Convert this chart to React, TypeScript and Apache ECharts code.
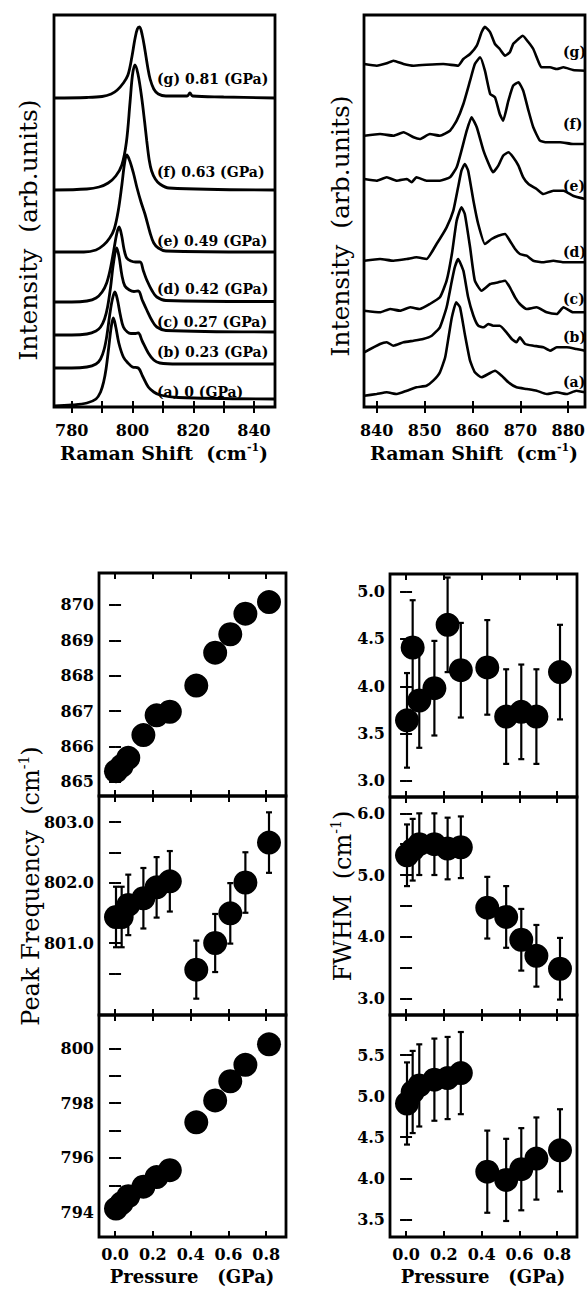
import React, { useEffect, useRef } from "react";
import * as echarts from "echarts";

const FONT = "DejaVu Serif";

// ---------- Top-left spectra (Raman shift cm-1, offset intensity) ----------
const lowA = [[774.2,1],[780,2],[785,4],[788,8],[789.5,15],[790.5,25],[791.3,38],[792.2,60],[793,80],[793.7,89],[794.5,80],[795.5,64],[797,50],[798.5,44],[800,40],[801.9,39],[803.3,31],[805.2,20],[807,15],[809,12],[815,9.5],[846.9,8]];
const lowB = [[774.2,39],[780,39],[785,40],[788,43],[789.5,48],[790.7,58],[791.6,72],[792.5,92],[793.4,108],[794.2,115],[795,108],[796,92],[797,80],[798.3,75],[799.5,73.5],[801,73.5],[801.9,74],[803.2,66],[805.2,54],[807,47],[809,44],[815,43],[846.9,43]];
const lowC = [[774.2,72],[780,72],[785,73],[788,76],[789.5,80],[790.8,88],[791.8,100],[792.8,120],[793.7,143],[794.8,159],[795.6,150],[796.5,132],[797.5,121],[799,117],[800.5,115.5],[801.9,116],[803.2,107],[804.7,97],[806.5,86],[808,80],[811,76.5],[846.9,75]];
const lowD = [[774.2,105],[780,105],[785,106],[788,109],[790,115],[791.5,124],[792.7,138],[793.8,156],[794.8,173],[795.6,180],[796.4,172],[797.2,158],[798.1,149],[799.5,146],[801,145],[802.5,145],[803.6,136],[804.7,127],[806.5,116],[808,110],[811,106.5],[846.9,105.5]];
const lowE = [[774.2,155],[784,155],[788,157],[790.5,162],[792.5,169],[794,178],[795.3,196],[796.5,222],[797.4,244],[798.1,252],[799,247],[800.3,234],[801.5,219],[802.8,205],[804.1,193],[805.8,174],[807,164],[808.5,159],[811,156],[846.9,155]];
const lowF = [[774.2,217],[785,218],[789,220],[792,224],[794.5,231],[796.5,242],[798,265],[799.2,305],[800,332],[800.8,342],[801.8,333],[803,310],[804,285],[804.7,266],[805.5,247],[806.3,236],[807.5,228],[809,223],[812,219],[846.9,217]];
const lowG = [[774.2,309],[785,309.5],[790,310.5],[793,313],[795,317],[797,324],[798.5,332],[799.8,350],[800.8,368],[801.6,378],[802.3,380],[803.2,372],[804.1,357],[805,340],[805.8,328],[807,318],[808.5,313],[811,311],[818,311],[818.9,314],[819.8,311],[830,310],[846.9,309]];
const lowSpectra = [lowA, lowB, lowC, lowD, lowE, lowF, lowG];
const lowLabels = ["(a) 0 (GPa)", "(b) 0.23 (GPa)", "(c) 0.27 (GPa)", "(d) 0.42 (GPa)", "(e) 0.49 (GPa)", "(f) 0.63 (GPa)", "(g) 0.81 (GPa)"];
const lowLabelY = [392, 352, 322, 289, 241, 172, 79];
const lowTicks = [780, 790, 800, 810, 820, 830, 840];
const lowTickLabels = [780, 800, 820, 840];

// ---------- Top-right spectra ----------
const highA = [[837.4,11.3],[840,13],[842.1,14.7],[844.2,13],[846.3,16.3],[848.3,19.7],[850.4,21.3],[851.8,26.3],[853.2,34.7],[854.3,49.7],[855,69.7],[855.7,89.7],[856.6,104.7],[857.4,99.7],[858.4,73],[859.5,46.3],[860.5,34.7],[861.9,29.7],[863.3,33],[864.7,36.3],[866.1,31.3],[867.5,24.7],[869.2,19.7],[871.3,18],[873.4,16.3],[875.5,13],[877.6,14.7],[879.7,13],[881.7,16.3],[883.5,14.7]];
const highB = [[837.4,54.7],[840.7,63],[842.1,64.7],[843.5,61.3],[845.6,64.7],[847.7,66.3],[849.7,68],[851.5,71.3],[853.2,79.7],[854.6,99.7],[855.7,126.3],[856.3,139.7],[857,148],[858.1,136.3],[859.1,109.7],[860.2,91.3],[861.2,81.3],[862.3,79.7],[863.3,83],[864.3,81.3],[865.7,81.3],[867.1,74.7],[868.2,68],[869.2,64.7],[869.9,69.7],[871,63],[872.7,61.3],[874.8,59.7],[876.2,56.3],[877.6,59.7],[879.7,59.7],[881.7,58],[883.5,56.3]];
const highC = [[837.4,96.3],[840.7,94.7],[842.8,98],[844.9,96.3],[847,99.7],[849,98],[851.1,103],[853.2,109.7],[854.6,126.3],[855.7,153],[856.7,186.3],[857.7,199.7],[858.4,193],[859.5,159.7],[860.5,126.3],[861.9,116.3],[863.7,123],[865.4,124.7],[866.8,126.3],[867.8,119.7],[868.9,109.7],[869.9,103],[871.3,98],[873.4,99.7],[875.5,94.7],[877.6,93],[879,99.7],[881,94.7],[883.5,94.7]];
const highD = [[837.4,146.3],[840.7,148],[843.5,146.3],[846.3,148],[848.3,149.7],[850.4,148],[852.5,163],[854.6,179.7],[856,196.3],[857,219.7],[857.7,236.3],[858.4,243],[859.1,236.3],[860.2,206.3],[861.2,183],[862.6,163],[864,168],[865.4,171.3],[866.8,173],[867.8,166.3],[868.9,158],[869.9,153],[871.3,151.3],[872.7,146.3],[874.8,144.7],[876.9,146.3],[879,144.7],[881,144.7],[883.5,144.7]];
const highE = [[837.4,228],[840,226.3],[842.1,229.7],[844.2,226.3],[846.3,228],[847.3,224.7],[848.3,229.7],[850.4,226.3],[853.2,226.3],[855.3,229.7],[856.7,239.7],[857.7,256.3],[858.8,276.3],[859.8,289.7],[860.9,279.7],[862.3,256.3],[863.7,239.7],[864.3,234.7],[865.4,241.3],[866.4,251.3],[867.5,254.7],[868.5,249.7],[869.6,241.3],[870.6,229.7],[871.7,223],[873.4,218],[874.8,213],[876.9,216.3],[879,216.3],[881,211.3],[883.5,208]];
const highF = [[837.4,271.3],[840.7,273],[843.5,271.3],[845.6,274.7],[847.7,269.7],[849,268],[851.1,273],[853.2,271.3],[855.3,276.3],[856.7,286.3],[858.1,303],[859.5,326.3],[860.5,343],[861.6,349.7],[862.6,336.3],[863.7,313],[864.7,309.7],[865.7,293],[866.4,286.3],[867.5,306.3],[868.5,321.3],[869.6,324.7],[870.6,316.3],[871.7,296.3],[872.7,279.7],[874.1,266.3],[875.5,264.7],[878.3,264.7],[881,263],[883.5,263]];
const highG = [[837.4,343],[840,341.3],[842.1,343.7],[843.5,346.3],[845.6,343],[847.7,341.3],[850.4,342.3],[853.9,343],[857,341.3],[858.1,348],[859.5,353],[860.9,361.3],[861.9,374.7],[862.6,380.3],[863.7,374.7],[864.7,363],[865.7,358],[866.8,351.3],[867.8,354.7],[868.5,363],[869.6,368],[870.5,371.3],[871.7,364.7],[872.7,358],[873.7,346.3],[874.4,339.7],[876.2,339.7],[877.6,338],[879,339.7],[881,337],[883.5,336.3]];
const highSpectra = [highA, highB, highC, highD, highE, highF, highG];
const highLabels = ["(a)", "(b)", "(c)", "(d)", "(e)", "(f)", "(g)"];
const highLabelY = [382, 337, 299, 252, 186, 124, 52];
const highTicks = [840, 850, 860, 870, 880];

// ---------- Bottom panels: pressure dependence ----------
const pressure = [0.005, 0.035, 0.07, 0.15, 0.22, 0.29, 0.43, 0.53, 0.61, 0.69, 0.815];
const pressureTicks = [0, 0.2, 0.4, 0.6, 0.8];

const peakHigh = [865.3, 865.45, 865.68, 866.32, 866.88, 866.98, 867.72, 868.65, 869.17, 869.75, 870.08];
const peakMid = [801.43, 801.43, 801.63, 801.74, 801.92, 802.02, 800.56, 801.0, 801.49, 802.0, 802.66];
const peakMidErr = [0.5, 0.5, 0.5, 0.5, 0.5, 0.5, 0.48, 0.48, 0.5, 0.5, 0.5];
const peakLow = [794.15, 794.35, 794.6, 794.95, 795.3, 795.55, 797.3, 798.1, 798.8, 799.4, 800.15];

const fwhmHigh = [3.64, 4.41, 3.85, 3.98, 4.65, 4.17, 4.2, 3.68, 3.73, 3.68, 4.15];
const fwhmHighErr = [0.5, 0.5, 0.5, 0.5, 0.5, 0.5, 0.5, 0.5, 0.5, 0.5, 0.5];
const fwhmMid = [5.32, 5.41, 5.5, 5.5, 5.43, 5.45, 4.47, 4.32, 3.95, 3.69, 3.48];
const fwhmMidErr = [0.5, 0.5, 0.5, 0.5, 0.5, 0.5, 0.5, 0.5, 0.5, 0.5, 0.5];
const fwhmLow = [4.91, 5.05, 5.13, 5.2, 5.22, 5.28, 4.08, 3.98, 4.11, 4.24, 4.34];
const fwhmLowErr = [0.5, 0.5, 0.5, 0.5, 0.5, 0.5, 0.5, 0.5, 0.5, 0.5, 0.5];

const peakHighTicks = [865, 866, 867, 868, 869, 870];
const peakMidTicks = [800.5, 801, 801.5, 802, 802.5, 803];
const peakMidLabels = [801, 802, 803];
const peakLowTicks = [794, 795, 796, 797, 798, 799, 800];
const peakLowLabels = [794, 796, 798, 800];
const fwhmHighTicks = [3, 3.5, 4, 4.5, 5];
const fwhmMidTicks = [3, 3.5, 4, 4.5, 5, 5.5, 6];
const fwhmMidLabels = [3, 4, 5, 6];
const fwhmLowTicks = [3.5, 4, 4.5, 5, 5.5];

const BLACK = "#000";

function buildOption() {
  const panels = [
    { grid: { left: 54, top: 15, width: 221, height: 392 }, x: [774.17, 846.9], xt: lowTicks, xl: lowTickLabels, xf: (v: number) => String(v), xm: 15, y: [0, 392], yt: null, yl: null, yf: null },
    { grid: { left: 364, top: 15, width: 221, height: 392 }, x: [837.35, 883.5], xt: highTicks, xl: highTicks, xf: (v: number) => String(v), xm: 15, y: [0, 392], yt: null, yl: null, yf: null },
    { grid: { left: 99, top: 573, width: 187, height: 223 }, x: [-0.085, 0.905], xt: pressureTicks, xl: null, xf: null, xm: 10, y: [864.6, 870.9], yt: peakHighTicks, yl: peakHighTicks, yf: (v: number) => String(v) },
    { grid: { left: 99, top: 796, width: 187, height: 219 }, x: [-0.085, 0.905], xt: pressureTicks, xl: null, xf: null, xm: 10, y: [799.81, 803.43], yt: peakMidTicks, yl: peakMidLabels, yf: (v: number) => v.toFixed(1) },
    { grid: { left: 99, top: 1015, width: 187, height: 222 }, x: [-0.085, 0.905], xt: pressureTicks, xl: pressureTicks, xf: (v: number) => v.toFixed(1), xm: 9, y: [793.11, 801.22], yt: peakLowTicks, yl: peakLowLabels, yf: (v: number) => String(v) },
    { grid: { left: 390, top: 574, width: 187, height: 223 }, x: [-0.085, 0.905], xt: pressureTicks, xl: null, xf: null, xm: 10, y: [2.83, 5.187], yt: fwhmHighTicks, yl: fwhmHighTicks, yf: (v: number) => v.toFixed(1) },
    { grid: { left: 390, top: 797, width: 187, height: 218 }, x: [-0.085, 0.905], xt: pressureTicks, xl: null, xf: null, xm: 10, y: [2.73, 6.265], yt: fwhmMidTicks, yl: fwhmMidLabels, yf: (v: number) => v.toFixed(1) },
    { grid: { left: 390, top: 1015, width: 187, height: 222 }, x: [-0.085, 0.905], xt: pressureTicks, xl: pressureTicks, xf: (v: number) => v.toFixed(1), xm: 9, y: [3.285, 5.987], yt: fwhmLowTicks, yl: fwhmLowTicks, yf: (v: number) => v.toFixed(1) },
  ];

  const tick = (vals: number[] | null) =>
    vals ? { show: true, inside: true, length: 6, customValues: vals, lineStyle: { color: BLACK, width: 2 } } : { show: false };
  const label = (vals: number[] | null, fmt: any, margin: number) =>
    vals
      ? { show: true, customValues: vals, formatter: fmt, fontFamily: FONT, fontWeight: "bold", fontSize: 16, lineHeight: 16, color: BLACK, margin }
      : { show: false };

  const grid: any[] = [];
  const xAxis: any[] = [];
  const yAxis: any[] = [];
  panels.forEach((p, i) => {
    grid.push({ ...p.grid, show: true, borderColor: BLACK, borderWidth: 2.8, backgroundColor: "transparent" });
    const base = { type: "value", gridIndex: i, axisLine: { show: false }, splitLine: { show: false } };
    xAxis.push({ ...base, position: "bottom", min: p.x[0], max: p.x[1], axisTick: tick(p.xt), axisLabel: label(p.xl, p.xf, p.xm) });
    xAxis.push({ ...base, position: "top", min: p.x[0], max: p.x[1], axisTick: tick(p.xt), axisLabel: { show: false } });
    yAxis.push({ ...base, position: "left", min: p.y[0], max: p.y[1], axisTick: tick(p.yt), axisLabel: label(p.yl, p.yf, 5) });
    yAxis.push({ ...base, position: "right", min: p.y[0], max: p.y[1], axisTick: tick(p.yt), axisLabel: { show: false } });
  });

  const series: any[] = [];
  lowSpectra.forEach((d) =>
    series.push({ type: "line", xAxisIndex: 0, yAxisIndex: 0, data: d, symbol: "none", smooth: 0.35, lineStyle: { color: BLACK, width: 2.8 } })
  );
  highSpectra.forEach((d) =>
    series.push({ type: "line", xAxisIndex: 2, yAxisIndex: 2, data: d, symbol: "none", smooth: 0.15, lineStyle: { color: BLACK, width: 2.6 } })
  );

  const errSeries = (pi: number, vals: number[], errs: number[]) => ({
    type: "custom",
    xAxisIndex: pi * 2,
    yAxisIndex: pi * 2,
    data: pressure.map((p, k) => [p, vals[k], errs[k]]),
    z: 3,
    renderItem: (_params: any, api: any) => {
      const x = api.value(0), y = api.value(1), e = api.value(2);
      const top = api.coord([x, y + e]);
      const bot = api.coord([x, y - e]);
      const st = { stroke: BLACK, lineWidth: 2.2 };
      return {
        type: "group",
        children: [
          { type: "line", shape: { x1: top[0], y1: top[1], x2: bot[0], y2: bot[1] }, style: st },
          { type: "line", shape: { x1: top[0] - 3, y1: top[1], x2: top[0] + 3, y2: top[1] }, style: st },
          { type: "line", shape: { x1: bot[0] - 3, y1: bot[1], x2: bot[0] + 3, y2: bot[1] }, style: st },
        ],
      };
    },
  });
  const dots = (pi: number, vals: number[]) => ({
    type: "scatter",
    xAxisIndex: pi * 2,
    yAxisIndex: pi * 2,
    data: pressure.map((p, k) => [p, vals[k]]),
    symbol: "circle",
    symbolSize: 24,
    itemStyle: { color: BLACK, opacity: 1 },
    z: 4,
  });

  series.push(dots(2, peakHigh));
  series.push(errSeries(3, peakMid, peakMidErr), dots(3, peakMid));
  series.push(dots(4, peakLow));
  series.push(errSeries(5, fwhmHigh, fwhmHighErr), dots(5, fwhmHigh));
  series.push(errSeries(6, fwhmMid, fwhmMidErr), dots(6, fwhmMid));
  series.push(errSeries(7, fwhmLow, fwhmLowErr), dots(7, fwhmLow));

  const txt = (x: number, y: number, text: string, size: number, weight: string, align = "left") => ({
    type: "text",
    x,
    y,
    z: 100,
    style: { text, fill: BLACK, font: `${weight} ${size}px "${FONT}"`, textAlign: align, textVerticalAlign: "middle" },
  });
  const richTitle = (x: number, y: number, pre: string, size: number, weight: string, rotate: boolean) => ({
    type: "text",
    x,
    y,
    z: 100,
    rotation: rotate ? Math.PI / 2 : 0,
    style: {
      text: `{n|${pre}(cm}{s|-1}{n|)}`,
      textAlign: "center",
      textVerticalAlign: "middle",
      fill: BLACK,
      rich: {
        n: { fontFamily: FONT, fontSize: size, fontWeight: weight, fill: BLACK, color: BLACK, lineHeight: size * 1.2 },
        s: { fontFamily: FONT, fontSize: Math.round(size * 0.6), fontWeight: weight, fill: BLACK, color: BLACK, verticalAlign: "top", lineHeight: size * 1.2 },
      },
    },
  });
  const rotText = (x: number, y: number, text: string, size: number, weight: string) => ({
    type: "text",
    x,
    y,
    z: 100,
    rotation: Math.PI / 2,
    style: { text, fill: BLACK, font: `${weight} ${size}px "${FONT}"`, textAlign: "center", textVerticalAlign: "middle" },
  });

  const graphic: any[] = [];
  lowLabels.forEach((t, k) => graphic.push(txt(157, lowLabelY[k], t, 14, "bold")));
  highLabels.forEach((t, k) => graphic.push(txt(563, highLabelY[k], t, 14, "bold")));
  graphic.push(rotText(28, 230, "Intensity  (arb.units)", 25, "normal"));
  graphic.push(rotText(340, 226, "Intensity  (arb.units)", 25, "normal"));
  graphic.push(richTitle(164, 453, "Raman Shift  ", 19, "bold", false));
  graphic.push(richTitle(474, 453, "Raman Shift  ", 19, "bold", false));
  graphic.push(richTitle(31, 886, "Peak Frequency  ", 24, "normal", true));
  graphic.push(richTitle(343, 896, "FWHM  ", 24, "normal", true));
  graphic.push(txt(192, 1276, "Pressure   (GPa)", 18, "bold", "center"));
  graphic.push(txt(483, 1276, "Pressure   (GPa)", 18, "bold", "center"));

  return { animation: false, backgroundColor: "#fff", grid, xAxis, yAxis, series, graphic };
}

export default function App() {
  const ref = useRef<HTMLDivElement>(null);
  useEffect(() => {
    document.body.style.margin = "0";
    const chart = echarts.init(ref.current!, null, { renderer: "svg" });
    chart.setOption(buildOption() as any);
    return () => chart.dispose();
  }, []);
  return <div ref={ref} style={{ width: 588, height: 1289, background: "#fff" }} />;
}
